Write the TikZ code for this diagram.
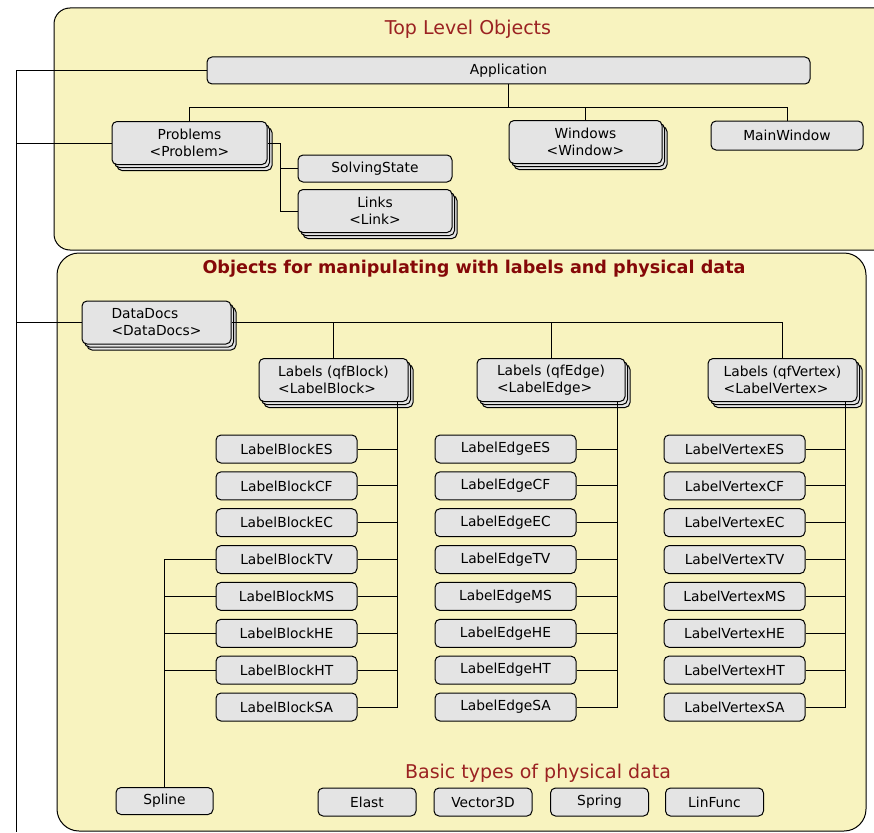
\documentclass[tikz,border=0pt]{standalone}
\usepackage{fontspec}
\setmainfont{DejaVu Sans}
\usetikzlibrary{shadows}
\usetikzlibrary{calc}

\definecolor{panel}{HTML}{F8F3BF}
\definecolor{boxgray}{HTML}{E4E4E4}
\definecolor{titlered}{HTML}{9B2222}
\definecolor{headred}{HTML}{850808}
\newcommand{\boxfont}{\fontsize{13.8}{17}\selectfont}
\newcommand{\headfont}{\fontsize{19}{22}\selectfont}

\tikzset{
  obj/.style={draw,line width=1pt,fill=boxgray,rounded corners=5pt,inner sep=0pt,
    minimum height=27pt,font=\boxfont,align=center},
  objs/.style={obj,minimum height=43pt,
    double copy shadow={shadow xshift=2.5pt,shadow yshift=-3pt}},
  wire/.style={line width=1pt},
}

\begin{document}
\begin{tikzpicture}[x=1pt,y=-1pt]
\useasboundingbox (0,0) rectangle (874,832);
% the two panels
\draw[line width=1pt,fill=panel,rounded corners=16pt] (54,8) rectangle (910,250);
\draw[line width=1pt,fill=panel,rounded corners=22pt] (57,253) rectangle (866,831);
\node (tophead) at (468,29)[text=titlered,font=\headfont]{Top Level Objects};
\node (datahead) at (474,269)[text=headred,font=\bfseries\fontsize{17.6}{20}\selectfont]
  {Objects for manipulating with labels and physical data};
\node (basichead) at (538,773)[text=titlered,font=\headfont]{Basic types of physical data};

% top level objects
\node (app) at (508.5,70.5)[obj,minimum width=603pt]{Application};
\node (prob) at (189.5,143)[objs,minimum width=155pt]{Problems\\<Problem>};
\node (solv) at (375,168.5)[obj,minimum width=154pt]{SolvingState};
\node (links) at (375,211)[objs,minimum width=154pt]{Links\\<Link>};
\node (win) at (585.5,142)[objs,minimum width=153pt]{Windows\\<Window>};
\node (mainw) at (787,135.5)[obj,minimum width=152pt,minimum height=29pt]{MainWindow};

\coordinate (rail) at (16,832);
\draw[wire] (app.west) -| (rail);
\draw[wire] (prob.west) -- (prob.west -| rail);
\draw[wire] (app.south) -- ++(0,23) coordinate (bus);
\draw[wire] (prob.north) |- (bus) -| (mainw.north);
\draw[wire] (bus) -| (win.north);
\coordinate (psplit) at (280,0);
\draw[wire] (prob.east) -- (prob.east -| psplit) |- (links.west);
\draw[wire] (solv.west) -- (solv.west -| psplit);

% label containers
\node (docs) at (156.5,322.5)[objs,minimum width=149pt,align=left]{DataDocs\\<DataDocs>};
\node (lblk) at (333.5,380)[objs,minimum width=149pt,align=left]{Labels (qfBlock)\\<LabelBlock>};
\node (ledg) at (551,380)[objs,minimum width=148pt,align=left]{Labels (qfEdge)\\<LabelEdge>};
\node (lvtx) at (782.5,380)[objs,minimum width=149pt,align=left]{Labels (qfVertex)\\<LabelVertex>};

\draw[wire] (docs.west) -- (docs.west -| rail);
\draw[wire] (docs.east) -| (lvtx.north);
\draw[wire] (lblk.north) |- (docs.east);
\draw[wire] (ledg.north) -- (ledg.north |- docs.east);

% label kinds, one column per container
\foreach \t [count=\i from 0] in {ES,CF,EC,TV,MS,HE,HT,SA}{
  \node (b\t) at (286.5,449+36.86*\i)[obj,minimum width=141pt,minimum height=28pt]{LabelBlock\t};
  \node (e\t) at (505.5,449+36.86*\i)[obj,minimum width=141pt,minimum height=28pt]{LabelEdge\t};
  \node (v\t) at (734.5,449+36.86*\i)[obj,minimum width=141pt,minimum height=28pt]{LabelVertex\t};
}
\coordinate (brail) at (397,0);
\coordinate (erail) at (617,0);
\coordinate (vrail) at (845,0);
\draw[wire] (lblk.south -| brail) |- (bSA.east);
\draw[wire] (ledg.south -| erail) |- (eSA.east);
\draw[wire] (lvtx.south -| vrail) |- (vSA.east);
\foreach \t in {ES,CF,EC,TV,MS,HE,HT}{
  \draw[wire] (b\t.east) -- (b\t.east -| brail);
  \draw[wire] (e\t.east) -- (e\t.east -| erail);
  \draw[wire] (v\t.east) -- (v\t.east -| vrail);
}

% basic types
\node (spl) at (164.5,801)[obj,minimum width=97pt]{Spline};
\draw[wire] (bTV.west) -| (spl.north);
\foreach \t in {MS,HE,HT}
  \draw[wire] (b\t.west) -- (b\t.west -| spl.north);
\node (elast) at (367,802)[obj,minimum width=98pt,minimum height=28pt]{Elast};
\node (vec) at (483,802)[obj,minimum width=98pt,minimum height=28pt]{Vector3D};
\node (spring) at (599.5,802)[obj,minimum width=98pt,minimum height=28pt]{Spring};
\node (linf) at (714.5,802)[obj,minimum width=98pt,minimum height=28pt]{LinFunc};
\end{tikzpicture}
\end{document}
